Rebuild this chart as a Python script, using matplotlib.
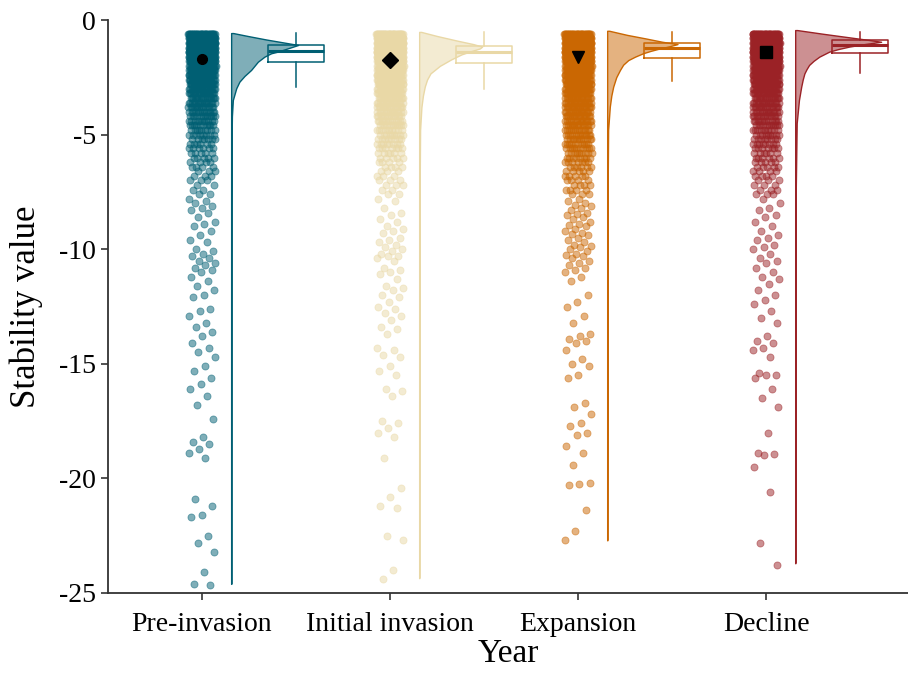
import numpy as np
import matplotlib
matplotlib.use('Agg')
import matplotlib.pyplot as plt
from matplotlib.colors import to_rgba

plt.rcParams['font.family'] = ['Liberation Serif', 'DejaVu Serif']
plt.rcParams['axes.unicode_minus'] = False

groups = ['Pre-invasion', 'Initial invasion', 'Expansion', 'Decline']
colors = ['#005F73', '#E9D8A6', '#CA6702', '#9B2226']
mean_markers = ['o', 'D', 'v', 's']

# dense part of each cloud: number of points per 0.2 level
levels = [-0.6, -0.8, -1.0, -1.2, -1.4, -1.6, -1.8, -2.0, -2.2, -2.4, -2.6, -2.8,
          -3.0, -3.2, -3.4, -3.6, -3.8, -4.0, -4.2, -4.4, -4.6, -4.8, -5.0, -5.2,
          -5.4, -5.6, -5.8, -6.0, -6.2, -6.4, -6.6, -6.8, -7.0, -7.2, -7.4, -7.6]
counts_pre = [40, 60, 60, 60, 55, 50, 45, 40, 35, 30, 28, 25, 22, 20, 18, 16, 14, 13,
              12, 11, 10, 9, 8, 7, 6, 6, 5, 5, 4, 4, 3, 3, 3, 2, 2, 2]
counts_initial = [40, 60, 60, 60, 55, 50, 45, 40, 35, 30, 28, 25, 22, 20, 18, 16, 15, 14,
                  13, 12, 11, 10, 9, 8, 8, 7, 6, 5, 4, 4, 3, 3, 3, 3, 2, 2]
counts_expansion = [40, 60, 60, 60, 55, 50, 45, 40, 35, 30, 28, 26, 24, 22, 20, 19, 18, 17,
                    16, 15, 14, 13, 12, 11, 10, 10, 9, 8, 7, 6, 5, 5, 4, 4, 4, 3]
counts_decline = [40, 60, 60, 60, 55, 50, 45, 40, 35, 30, 28, 25, 22, 20, 18, 16, 15, 14,
                  13, 12, 11, 10, 9, 8, 8, 7, 6, 6, 5, 5, 4, 4, 3, 3, 3, 3]

# sparse tails read one by one
tail_pre = [-7.8, -7.9, -8.0, -8.1, -8.2, -8.3, -8.4, -8.6, -8.8, -8.9, -9.0, -9.2, -9.4,
            -9.6, -9.7, -10.0, -10.1, -10.2, -10.3, -10.4, -10.5, -10.6, -10.7, -10.8,
            -10.9, -11.0, -11.2, -11.4, -11.6, -11.8, -12.0, -12.1, -12.6, -12.7, -12.9,
            -13.2, -13.4, -13.6, -13.8, -14.1, -14.3, -14.5, -14.7, -15.1, -15.3, -15.6,
            -15.9, -16.1, -16.4, -16.8, -17.4, -18.2, -18.4, -18.5, -18.7, -18.9, -19.1,
            -20.9, -21.2, -21.6, -21.7, -22.5, -22.8, -23.2, -24.1, -24.6, -24.65]
tail_initial = [-7.8, -7.9, -8.2, -8.4, -8.5, -8.7, -8.8, -9.0, -9.1, -9.2, -9.3, -9.5,
                -9.6, -9.7, -9.8, -9.9, -10.0, -10.1, -10.2, -10.3, -10.3, -10.4, -10.5,
                -10.8, -10.9, -11.0, -11.1, -11.3, -11.6, -11.7, -11.8, -12.0, -12.1,
                -12.3, -12.5, -12.6, -12.8, -12.9, -13.1, -13.4, -13.5, -13.7, -14.3,
                -14.4, -14.6, -14.7, -15.1, -15.3, -15.5, -16.1, -16.2, -16.4, -17.5,
                -17.6, -17.8, -18.0, -18.2, -19.1, -20.4, -20.8, -21.2, -21.3, -22.5,
                -22.7, -24.0, -24.4]
tail_expansion = [-7.8, -7.9, -8.0, -8.05, -8.1, -8.2, -8.3, -8.4, -8.45, -8.5, -8.6,
                  -8.7, -8.8, -8.9, -8.95, -9.0, -9.1, -9.2, -9.3, -9.35, -9.4, -9.5,
                  -9.6, -9.7, -9.8, -9.85, -9.9, -10.0, -10.1, -10.2, -10.25, -10.3,
                  -10.4, -10.5, -10.6, -10.7, -10.8, -10.9, -11.0, -11.2, -11.4, -12.0,
                  -12.3, -12.5, -12.9, -13.2, -13.7, -13.8, -13.9, -14.0, -14.1, -14.4,
                  -14.8, -15.0, -15.1, -15.5, -15.6, -16.7, -16.9, -17.2, -17.6, -17.7,
                  -18.0, -18.1, -18.6, -18.9, -19.4, -20.2, -20.25, -20.3, -21.4, -22.3,
                  -22.7]
tail_decline = [-7.8, -8.0, -8.2, -8.3, -8.5, -8.6, -8.8, -9.0, -9.2, -9.4, -9.5, -9.6,
                -9.8, -9.9, -10.0, -10.2, -10.4, -10.5, -10.6, -10.8, -11.0, -11.2, -11.3,
                -11.5, -11.8, -12.0, -12.2, -12.4, -12.7, -13.0, -13.2, -13.8, -14.0,
                -14.1, -14.3, -14.4, -14.7, -15.4, -15.5, -15.5, -15.6, -16.1, -16.5,
                -16.9, -18.0, -18.9, -18.95, -19.0, -19.5, -20.6, -22.8, -23.8]

# half violin outlines (value, half width)
violin_y_pre = [-0.57, -0.7, -0.85, -1.0, -1.09, -1.24, -1.38, -1.45, -1.6, -1.82, -2.18,
                -2.44, -2.69, -2.98, -3.49, -4.2, -5.5, -8.0, -24.6]
violin_w_pre = [0.011, 0.09, 0.186, 0.293, 0.356, 0.30, 0.248, 0.213, 0.177, 0.142,
                0.106, 0.071, 0.044, 0.027, 0.009, 0.004, 0.002, 0.0015, 0.001]
violin_y_initial = [-0.52, -0.7, -0.9, -1.05, -1.16, -1.24, -1.35, -1.5, -1.72, -2.0,
                    -2.33, -2.6, -2.9, -3.3, -3.8, -4.8, -8.0, -24.35]
violin_w_initial = [0.011, 0.096, 0.202, 0.287, 0.335, 0.323, 0.28, 0.225, 0.17, 0.11,
                    0.06, 0.042, 0.03, 0.02, 0.012, 0.005, 0.002, 0.001]
violin_y_expansion = [-0.47, -0.65, -0.8, -0.95, -1.05, -1.15, -1.24, -1.35, -1.45, -1.6,
                      -1.75, -1.95, -2.18, -2.5, -2.91, -3.3, -3.78, -4.8, -8.0, -22.7]
violin_w_expansion = [0.011, 0.106, 0.202, 0.293, 0.374, 0.33, 0.28, 0.23, 0.191, 0.148,
                      0.112, 0.085, 0.068, 0.048, 0.032, 0.022, 0.014, 0.005, 0.002,
                      0.001]
violin_y_decline = [-0.44, -0.6, -0.75, -0.88, -0.95, -1.05, -1.16, -1.27, -1.38, -1.6,
                    -1.78, -1.96, -2.15, -2.33, -2.6, -2.91, -3.49, -4.5, -8.0, -23.7]
violin_w_decline = [0.011, 0.147, 0.282, 0.4, 0.457, 0.37, 0.287, 0.228, 0.181, 0.128,
                    0.098, 0.074, 0.06, 0.049, 0.04, 0.032, 0.02, 0.008, 0.002, 0.001]

# box stats
whis_hi = [-0.58, -0.54, -0.51, -0.51]
q3 = [-1.09, -1.12, -0.99, -0.87]
medians = [-1.35, -1.38, -1.24, -1.09]
q1 = [-1.85, -1.89, -1.67, -1.45]
whis_lo = [-2.91, -3.01, -2.66, -2.30]
means = [-1.72, -1.75, -1.63, -1.38]

counts = [counts_pre, counts_initial, counts_expansion, counts_decline]
tails = [tail_pre, tail_initial, tail_expansion, tail_decline]
violin_y = [violin_y_pre, violin_y_initial, violin_y_expansion, violin_y_decline]
violin_w = [violin_w_pre, violin_w_initial, violin_w_expansion, violin_w_decline]


def spread(n, half=0.072):
    # evenly spread horizontal jitter (golden ratio sequence)
    k = np.arange(n)
    return ((k * 0.6180339887) % 1.0 - 0.5) * 2 * half


fig = plt.figure(figsize=(9.08, 6.74), dpi=100)
ax = fig.add_axes([108 / 908, 1 - 593 / 674, 800 / 908, 573 / 674])

for i, (name, c) in enumerate(zip(groups, colors)):
    pos = i + 1
    vals = np.concatenate([np.repeat(levels, counts[i]), tails[i]])
    ax.scatter(pos + spread(len(vals)), vals, s=26, color=c, alpha=0.5,
               edgecolors=c, linewidths=0.6, zorder=2)

    base = pos + 0.155
    vy = np.array(violin_y[i])
    vw = np.array(violin_w[i])
    ax.fill_betweenx(vy, base, base + vw, facecolor=to_rgba(c, 0.5),
                     edgecolor=c, linewidth=1.0, zorder=3)

    stats = [dict(whislo=whis_lo[i], q1=q1[i], med=medians[i], q3=q3[i],
                  whishi=whis_hi[i], fliers=[])]
    ax.bxp(stats, positions=[pos + 0.5], widths=0.3, showcaps=False,
           showfliers=False, manage_ticks=False,
           boxprops=dict(color=c, linewidth=1.1, zorder=4),
           whiskerprops=dict(color=c, linewidth=1.1, zorder=4),
           medianprops=dict(color=c, linewidth=2.2, zorder=4))

    ax.plot(pos, means[i], marker=mean_markers[i], color='black',
            markersize=8 if mean_markers[i] != 'o' else 7, linestyle='none', zorder=5)

ax.set_xlim(0.5, 4.755)
ax.set_ylim(-25, 0)
ax.set_xticks([1, 2, 3, 4])
ax.set_xticklabels(groups)
ax.set_yticks([0, -5, -10, -15, -20, -25])
ax.set_yticklabels(['0', '-5', '-10', '-15', '-20', '-25'])
ax.tick_params(axis='both', labelsize=20, length=5, width=1.2, color='#333333')
ax.tick_params(axis='x', pad=9)
ax.set_xlabel('Year', fontsize=24, labelpad=1)
ax.set_ylabel('Stability value', fontsize=25, labelpad=12)
for side in ['top', 'right']:
    ax.spines[side].set_visible(False)
for side in ['left', 'bottom']:
    ax.spines[side].set_linewidth(1.3)
    ax.spines[side].set_color('#333333')

fig.savefig('out.png', dpi=100)
